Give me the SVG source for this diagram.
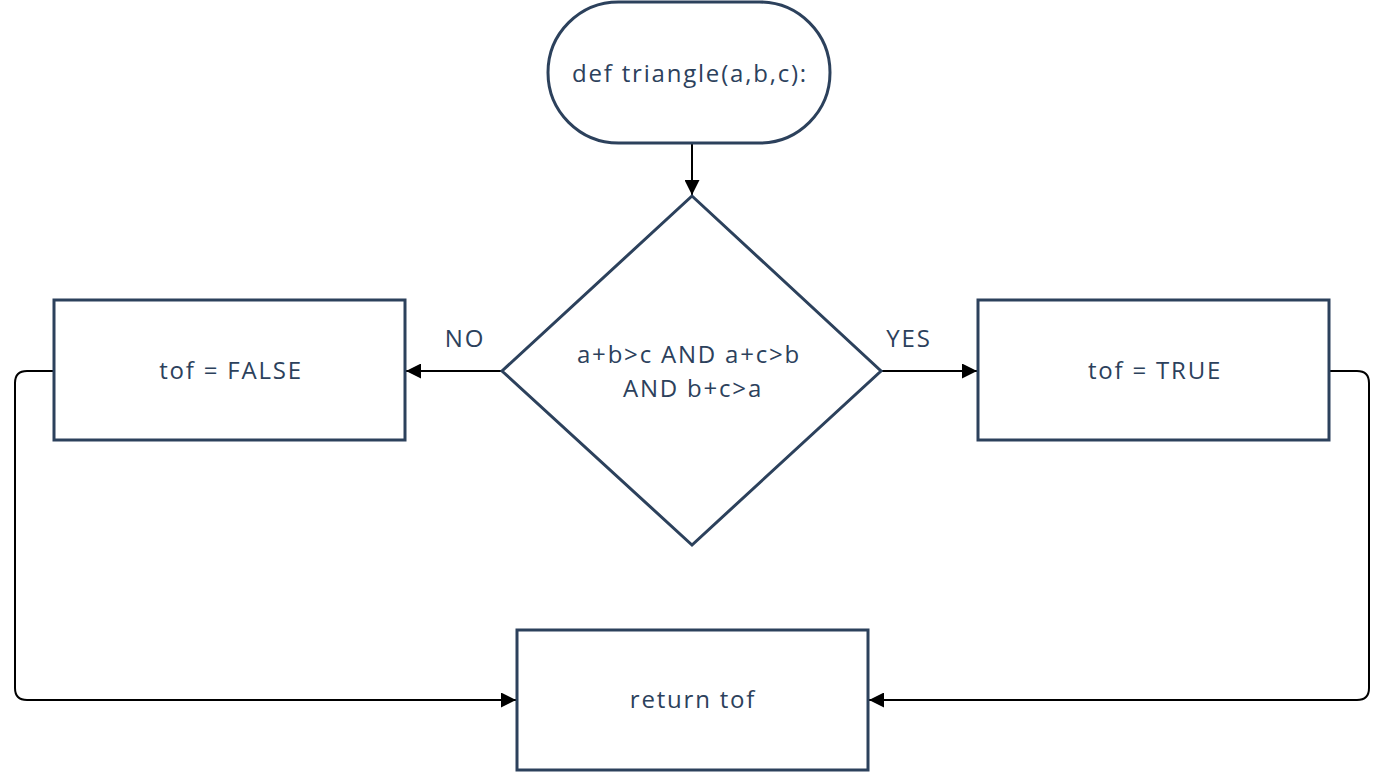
<svg xmlns="http://www.w3.org/2000/svg" width="1386" height="772" viewBox="0 0 1386 772">
<style>
.n{fill:#fff;stroke:#2c415c;stroke-width:3}
.t{font-family:"Open Sans","Liberation Sans",sans-serif;font-size:24px;letter-spacing:1.8px;fill:#2c415c;text-anchor:middle;dominant-baseline:central}
.c{fill:none;stroke:#000;stroke-width:2}
</style>
<defs>
<marker id="a" viewBox="0 0 10 10" refX="10" refY="5" markerWidth="15" markerHeight="15" markerUnits="userSpaceOnUse" orient="auto">
<path d="M0,0 L10,5 L0,10 z" fill="#000"/>
</marker>
</defs>
<rect width="1386" height="772" fill="#fff"/>
<g id="connectors">
<path class="c" d="M692,144 V195" marker-end="url(#a)"/>
<path class="c" d="M502,371 H406" marker-end="url(#a)"/>
<path class="c" d="M881,371 H977" marker-end="url(#a)"/>
<path class="c" d="M54,371 H27 Q15,371 15,383 V688 Q15,700 27,700 H516" marker-end="url(#a)"/>
<path class="c" d="M1329,371 H1357 Q1369,371 1369,383 V688 Q1369,700 1357,700 H869" marker-end="url(#a)"/>
<text class="t" x="465" y="337">NO</text>
<text class="t" x="909" y="337">YES</text>
</g>
<g id="start">
<rect class="n" x="548" y="2" width="282" height="141" rx="70.5"/>
<text class="t" x="690" y="72">def triangle(a,b,c):</text>
</g>
<g id="decision">
<polygon class="n" points="692,196 881,371 692,545 502,371"/>
<text class="t" x="689" y="353">a+b&gt;c AND a+c&gt;b</text>
<text class="t" x="693" y="387">AND b+c&gt;a</text>
</g>
<g id="false">
<rect class="n" x="54" y="300" width="351" height="140"/>
<text class="t" x="231" y="369">tof = FALSE</text>
</g>
<g id="true">
<rect class="n" x="978" y="300" width="351" height="140"/>
<text class="t" x="1155" y="369">tof = TRUE</text>
</g>
<g id="return">
<rect class="n" x="517" y="630" width="351" height="140"/>
<text class="t" x="693" y="698">return tof</text>
</g>
</svg>
